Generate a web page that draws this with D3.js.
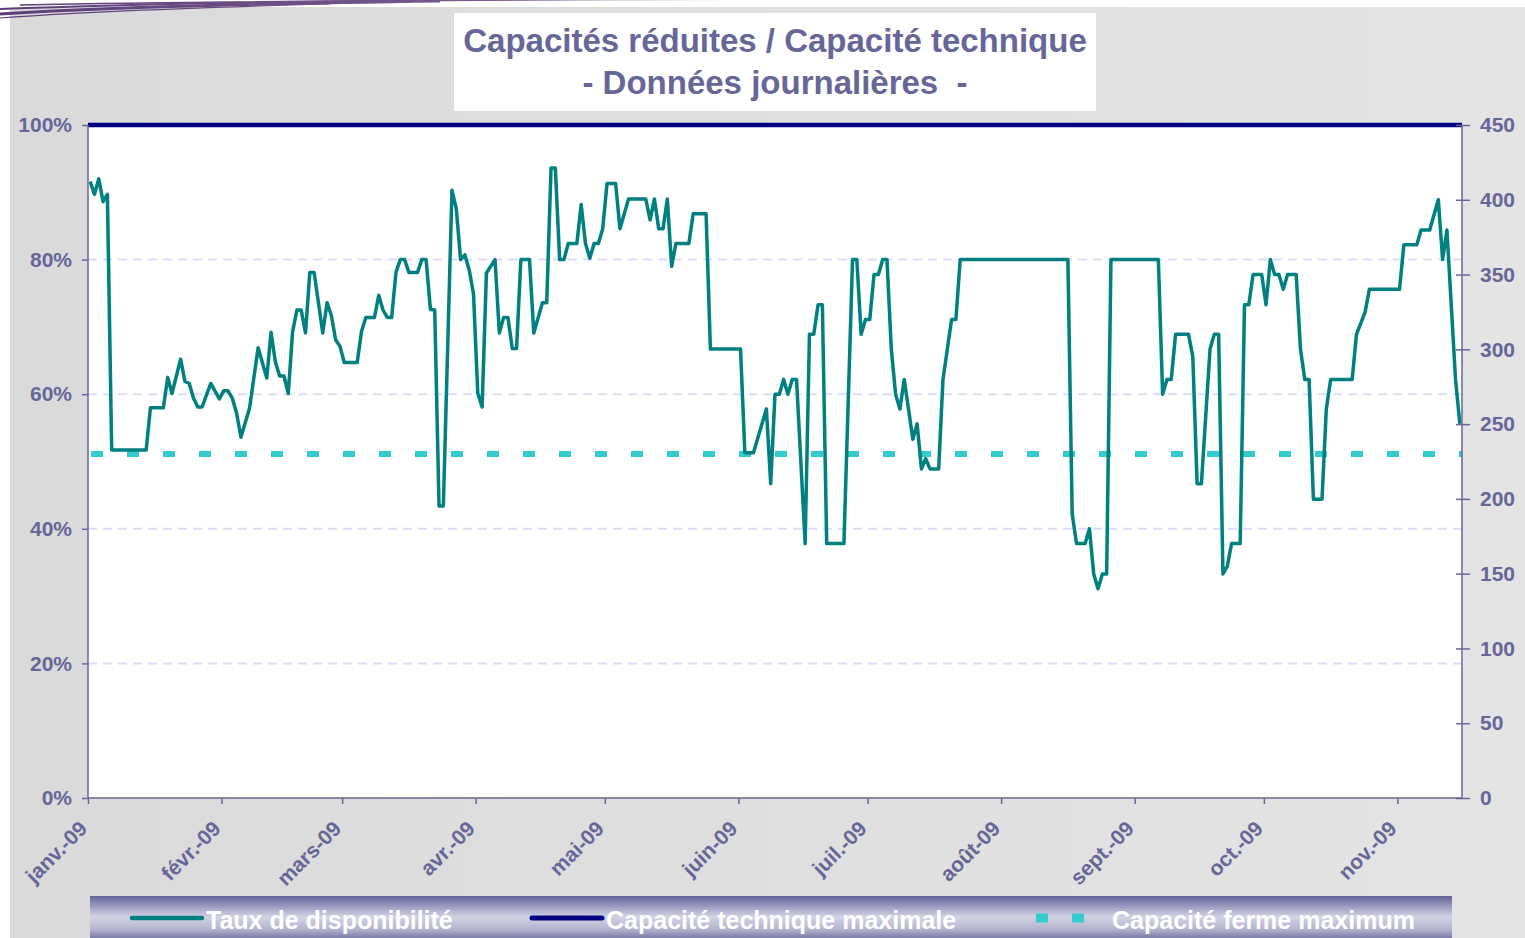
<!DOCTYPE html>
<html>
<head>
<meta charset="utf-8">
<script src="https://cdn.jsdelivr.net/npm/d3@7"></script>
<style>
body { margin: 0; background: #ffffff; }
svg { display: block; font-family: "Liberation Sans", Arial, sans-serif; }
</style>
</head>
<body>
<div id="vis"></div>
<script>
// Taux de disponibilité (%)
var dates = [
    "2009-01-01", "2009-01-02", "2009-01-03", "2009-01-04", "2009-01-05", "2009-01-06", "2009-01-14", "2009-01-15",
    "2009-01-18", "2009-01-19", "2009-01-20", "2009-01-22", "2009-01-23", "2009-01-24", "2009-01-25", "2009-01-26",
    "2009-01-27", "2009-01-29", "2009-01-31", "2009-02-01", "2009-02-02", "2009-02-03", "2009-02-04", "2009-02-05",
    "2009-02-07", "2009-02-09", "2009-02-11", "2009-02-12", "2009-02-13", "2009-02-14", "2009-02-15", "2009-02-16",
    "2009-02-17", "2009-02-18", "2009-02-19", "2009-02-20", "2009-02-21", "2009-02-22", "2009-02-24", "2009-02-25",
    "2009-02-26", "2009-02-27", "2009-02-28", "2009-03-01", "2009-03-04", "2009-03-05", "2009-03-06", "2009-03-08",
    "2009-03-09", "2009-03-10", "2009-03-11", "2009-03-12", "2009-03-13", "2009-03-14", "2009-03-15", "2009-03-16",
    "2009-03-18", "2009-03-19", "2009-03-20", "2009-03-21", "2009-03-22", "2009-03-23", "2009-03-24", "2009-03-26",
    "2009-03-27", "2009-03-28", "2009-03-29", "2009-03-30", "2009-03-31", "2009-04-01", "2009-04-02", "2009-04-03",
    "2009-04-05", "2009-04-06", "2009-04-07", "2009-04-08", "2009-04-09", "2009-04-10", "2009-04-11", "2009-04-13",
    "2009-04-14", "2009-04-16", "2009-04-17", "2009-04-18", "2009-04-19", "2009-04-20", "2009-04-21", "2009-04-22",
    "2009-04-24", "2009-04-25", "2009-04-26", "2009-04-27", "2009-04-28", "2009-04-29", "2009-04-30", "2009-05-01",
    "2009-05-03", "2009-05-04", "2009-05-06", "2009-05-10", "2009-05-11", "2009-05-12", "2009-05-13", "2009-05-14",
    "2009-05-15", "2009-05-16", "2009-05-17", "2009-05-20", "2009-05-21", "2009-05-24", "2009-05-25", "2009-06-01",
    "2009-06-02", "2009-06-04", "2009-06-07", "2009-06-08", "2009-06-09", "2009-06-10", "2009-06-11", "2009-06-12",
    "2009-06-13", "2009-06-14", "2009-06-16", "2009-06-17", "2009-06-18", "2009-06-19", "2009-06-20", "2009-06-21",
    "2009-06-25", "2009-06-27", "2009-06-28", "2009-06-29", "2009-06-30", "2009-07-01", "2009-07-02", "2009-07-03",
    "2009-07-04", "2009-07-05", "2009-07-06", "2009-07-07", "2009-07-08", "2009-07-09", "2009-07-10", "2009-07-11",
    "2009-07-12", "2009-07-13", "2009-07-14", "2009-07-15", "2009-07-17", "2009-07-18", "2009-07-20", "2009-07-21",
    "2009-07-22", "2009-08-16", "2009-08-17", "2009-08-18", "2009-08-20", "2009-08-21", "2009-08-22", "2009-08-23",
    "2009-08-24", "2009-08-25", "2009-08-26", "2009-09-06", "2009-09-07", "2009-09-08", "2009-09-09", "2009-09-10",
    "2009-09-13", "2009-09-14", "2009-09-15", "2009-09-16", "2009-09-18", "2009-09-19", "2009-09-20", "2009-09-21",
    "2009-09-22", "2009-09-23", "2009-09-25", "2009-09-26", "2009-09-27", "2009-09-28", "2009-09-30", "2009-10-01",
    "2009-10-02", "2009-10-03", "2009-10-04", "2009-10-05", "2009-10-06", "2009-10-08", "2009-10-09", "2009-10-10",
    "2009-10-11", "2009-10-12", "2009-10-14", "2009-10-15", "2009-10-16", "2009-10-21", "2009-10-22", "2009-10-24",
    "2009-10-25", "2009-11-01", "2009-11-02", "2009-11-05", "2009-11-06", "2009-11-08", "2009-11-10", "2009-11-11",
    "2009-11-12", "2009-11-14", "2009-11-15"
];
var taux = [
    91.6, 89.7, 92.0, 88.6, 89.7, 51.7, 51.7, 58.0,
    58.0, 62.5, 60.1, 65.2, 61.9, 61.6, 59.4, 58.1,
    58.1, 61.6, 59.3, 60.5, 60.5, 59.4, 57.2, 53.6,
    57.9, 66.9, 62.4, 69.2, 64.8, 62.7, 62.7, 60.1,
    69.3, 72.5, 72.5, 69.1, 78.1, 78.1, 69.1, 73.6,
    71.7, 68.1, 67.1, 64.7, 64.7, 69.3, 71.4, 71.4,
    74.7, 72.5, 71.4, 71.4, 78.1, 80.0, 80.0, 78.1,
    78.1, 80.0, 80.0, 72.6, 72.5, 43.4, 43.4, 90.3,
    87.6, 80.0, 80.7, 78.5, 74.9, 60.1, 58.1, 78.0,
    80.0, 69.1, 71.4, 71.4, 66.8, 66.8, 80.0, 80.0,
    69.1, 73.6, 73.6, 93.6, 93.6, 80.0, 80.0, 82.4,
    82.4, 88.2, 82.4, 80.2, 82.4, 82.4, 84.6, 91.3,
    91.3, 84.6, 89.0, 89.0, 85.9, 89.0, 84.6, 84.6,
    89.0, 79.0, 82.4, 82.4, 86.8, 86.8, 66.7, 66.7,
    51.3, 51.3, 57.8, 46.7, 60.0, 60.0, 62.2, 60.0,
    62.2, 62.2, 37.8, 68.9, 68.9, 73.3, 73.3, 37.8,
    37.8, 80.0, 80.0, 68.9, 71.1, 71.1, 77.8, 77.8,
    80.0, 80.0, 66.7, 60.0, 57.8, 62.2, 57.8, 53.3,
    55.6, 48.9, 50.4, 48.9, 48.9, 62.2, 71.1, 71.1,
    80.0, 80.0, 42.2, 37.8, 37.8, 40.0, 33.3, 31.1,
    33.3, 33.3, 80.0, 80.0, 60.0, 62.2, 62.2, 68.9,
    68.9, 65.6, 46.7, 46.7, 66.7, 68.9, 68.9, 33.3,
    34.4, 37.8, 37.8, 73.3, 73.3, 77.8, 77.8, 73.3,
    80.0, 77.8, 77.8, 75.6, 77.8, 77.8, 66.7, 62.2,
    62.2, 44.4, 44.4, 57.8, 62.2, 62.2, 68.9, 72.2,
    75.6, 75.6, 82.2, 82.2, 84.4, 84.4, 88.9, 80.0,
    84.4, 62.2, 55.6
];
var periode = ["2009-01-01", "2009-11-16"];
var moisLabels = ["janv.-09", "févr.-09", "mars-09", "avr.-09", "mai-09", "juin-09",
    "juil.-09", "août-09", "sept.-09", "oct.-09", "nov.-09"];
var pctTicks = [0, 20, 40, 60, 80, 100];
var capTicks = [0, 50, 100, 150, 200, 250, 300, 350, 400, 450];
var capaciteTechnique = 450;
var capaciteFerme = 230;
var legendLabels = ["Taux de disponibilité", "Capacité technique maximale", "Capacité ferme maximum"];
var titre = ["Capacités réduites / Capacité technique", "- Données journalières  -"];

var width = 1525;
var height = 938;
var plotLeft = 88, plotRight = 1462, plotTop = 125, plotBottom = 798;
var textColor = "#666699";
var svgElement;

var parse = d3.timeParse("%Y-%m-%d");
var x = d3.scaleTime().domain(periode.map(parse)).range([plotLeft, plotRight]);
var yPct = d3.scaleLinear().domain([0, 100]).range([plotBottom, plotTop]);
var yCap = d3.scaleLinear().domain([0, 450]).range([plotBottom, plotTop]);

function main() {
    svgElement = d3.select('#vis').append('svg')
        .attr('width', width)
        .attr('height', height);
    drawBackground();
    drawTitle();
    drawPlot();
    drawAxes();
    drawLegend();
}

function drawBackground() {
    var defs = svgElement.append('defs');
    var bg = defs.append('linearGradient').attr('id', 'bg').attr('x1', 0).attr('x2', 1).attr('y1', 0).attr('y2', 0);
    bg.append('stop').attr('offset', 0).attr('stop-color', '#dadada');
    bg.append('stop').attr('offset', 1).attr('stop-color', '#e4e4e4');
    var lg = defs.append('linearGradient').attr('id', 'leg').attr('x1', 0).attr('x2', 0).attr('y1', 0).attr('y2', 1);
    lg.append('stop').attr('offset', 0).attr('stop-color', '#63639a');
    lg.append('stop').attr('offset', 0.18).attr('stop-color', '#8c8cb6');
    lg.append('stop').attr('offset', 0.5).attr('stop-color', '#d3d3e5');
    lg.append('stop').attr('offset', 0.8).attr('stop-color', '#b2b2cd');
    lg.append('stop').attr('offset', 1).attr('stop-color', '#7b7ba8');
    var sw = defs.append('linearGradient').attr('id', 'swoosh').attr('gradientUnits', 'userSpaceOnUse')
        .attr('x1', 0).attr('x2', 1250).attr('y1', 0).attr('y2', 0);
    sw.append('stop').attr('offset', 0).attr('stop-color', '#5b3d78');
    sw.append('stop').attr('offset', 0.4).attr('stop-color', '#7a5c92');
    sw.append('stop').attr('offset', 1).attr('stop-color', '#ffffff').attr('stop-opacity', 0);

    svgElement.append('rect')
        .attr('x', 10).attr('y', 7)
        .attr('width', width - 10).attr('height', height - 7)
        .attr('fill', 'url(#bg)');

    // traits décoratifs en haut à gauche
    var swooshes = [
        "M0,14 Q150,5 440,1", "M0,9 Q200,1 600,-1", "M0,18 Q110,10 330,4", "M20,5 Q400,-2 1250,-1"
    ];
    var widths = [3, 2, 1.2, 1.5];
    swooshes.forEach(function (d, i) {
        svgElement.append('path')
            .attr('d', d)
            .attr('fill', 'none')
            .attr('stroke', 'url(#swoosh)')
            .attr('stroke-width', widths[i]);
    });
}

function drawTitle() {
    svgElement.append('rect')
        .attr('x', 454).attr('y', 13)
        .attr('width', 642).attr('height', 98)
        .attr('fill', '#ffffff');
    titre.forEach(function (t, i) {
        svgElement.append('text')
            .attr('x', 775)
            .attr('y', 52 + i * 42)
            .attr('text-anchor', 'middle')
            .attr('font-size', 33)
            .attr('font-weight', 'bold')
            .attr('fill', textColor)
            .style('white-space', 'pre')
            .text(t);
    });
}

function drawPlot() {
    svgElement.append('rect')
        .attr('x', plotLeft).attr('y', plotTop)
        .attr('width', plotRight - plotLeft).attr('height', plotBottom - plotTop)
        .attr('fill', '#ffffff');

    svgElement.append('g')
        .selectAll('line')
        .data(pctTicks.filter(function (d) { return d > 0 && d < 100; }))
        .enter().append('line')
        .attr('x1', plotLeft).attr('x2', plotRight)
        .attr('y1', function (d) { return yPct(d); })
        .attr('y2', function (d) { return yPct(d); })
        .attr('stroke', '#dcdcfa')
        .attr('stroke-width', 2)
        .attr('stroke-dasharray', '9,6');

    var xDomain = x.domain();

    // capacité ferme maximum
    svgElement.append('line')
        .attr('x1', x(xDomain[0])).attr('x2', x(xDomain[1]))
        .attr('y1', yCap(capaciteFerme)).attr('y2', yCap(capaciteFerme))
        .attr('stroke', '#33cccc')
        .attr('stroke-width', 6)
        .attr('stroke-dasharray', '12,24')
        .attr('stroke-dashoffset', -3);

    // taux de disponibilité (chaque valeur placée au milieu de sa journée)
    var serie = dates.map(function (d, i) {
        return { date: d3.timeHour.offset(parse(d), 12), v: taux[i] };
    });
    var line = d3.line()
        .x(function (d) { return x(d.date); })
        .y(function (d) { return yPct(d.v); });
    svgElement.append('path')
        .datum(serie)
        .attr('d', line)
        .attr('fill', 'none')
        .attr('stroke', '#008080')
        .attr('stroke-width', 3.5)
        .attr('stroke-linejoin', 'round');

    // capacité technique maximale
    svgElement.append('line')
        .attr('x1', x(xDomain[0])).attr('x2', x(xDomain[1]))
        .attr('y1', yCap(capaciteTechnique)).attr('y2', yCap(capaciteTechnique))
        .attr('stroke', '#000080')
        .attr('stroke-width', 4.5);
}

function drawAxes() {
    var axisLeft = svgElement.append('g')
        .attr('transform', 'translate(' + plotLeft + ',0)')
        .call(d3.axisLeft(yPct).tickValues(pctTicks).tickSize(6).tickPadding(10)
            .tickFormat(function (d) { return d + '%'; }));
    var axisRight = svgElement.append('g')
        .attr('transform', 'translate(' + plotRight + ',0)')
        .call(d3.axisRight(yCap).tickValues(capTicks).tickSize(8).tickPadding(10));
    axisRight.selectAll('.tick line').attr('x1', -6);

    var months = d3.timeMonth.range(parse("2009-01-01"), parse("2009-11-02"));
    var axisBottom = svgElement.append('g')
        .attr('transform', 'translate(0,' + plotBottom + ')')
        .call(d3.axisBottom(x).tickValues(months).tickSize(6)
            .tickFormat(function (d, i) { return moisLabels[i]; }));
    axisBottom.selectAll('.tick text')
        .attr('text-anchor', 'end')
        .attr('x', 0).attr('y', 0).attr('dy', 0)
        .attr('transform', 'translate(0,32) rotate(-45)');

    [axisLeft, axisRight, axisBottom].forEach(function (a) {
        a.selectAll('.domain').attr('stroke', textColor).attr('stroke-width', 1.5);
        a.selectAll('.tick line').attr('stroke', textColor).attr('stroke-width', 1.5);
        a.selectAll('.tick text')
            .attr('fill', textColor)
            .attr('font-size', 21)
            .attr('font-weight', 'bold')
            .attr('font-family', '"Liberation Sans", Arial, sans-serif');
    });
    axisBottom.select('.domain').attr('d', 'M' + plotLeft + ',0H' + plotRight);
    axisLeft.select('.domain').attr('d', 'M0,' + plotBottom + 'V' + plotTop);
    axisRight.select('.domain').attr('d', 'M0,' + plotBottom + 'V' + plotTop);
}

function drawLegend() {
    svgElement.append('rect')
        .attr('x', 90).attr('y', 896)
        .attr('width', 1362).attr('height', 42)
        .attr('fill', 'url(#leg)');

    var ly = 918;
    svgElement.append('line')
        .attr('x1', 132).attr('x2', 202).attr('y1', ly).attr('y2', ly)
        .attr('stroke', '#008080').attr('stroke-width', 4.5).attr('stroke-linecap', 'round');
    svgElement.append('line')
        .attr('x1', 532).attr('x2', 602).attr('y1', ly).attr('y2', ly)
        .attr('stroke', '#000080').attr('stroke-width', 5).attr('stroke-linecap', 'round');
    svgElement.append('line')
        .attr('x1', 1036).attr('x2', 1090).attr('y1', ly).attr('y2', ly)
        .attr('stroke', '#33cccc').attr('stroke-width', 9).attr('stroke-dasharray', '12,24');

    var lx = [206, 606, 1112];
    legendLabels.forEach(function (t, i) {
        svgElement.append('text')
            .attr('x', lx[i]).attr('y', 929)
            .attr('font-size', 25)
            .attr('font-weight', 'bold')
            .attr('fill', '#ffffff')
            .text(t);
    });
}

main();
</script>
</body>
</html>
